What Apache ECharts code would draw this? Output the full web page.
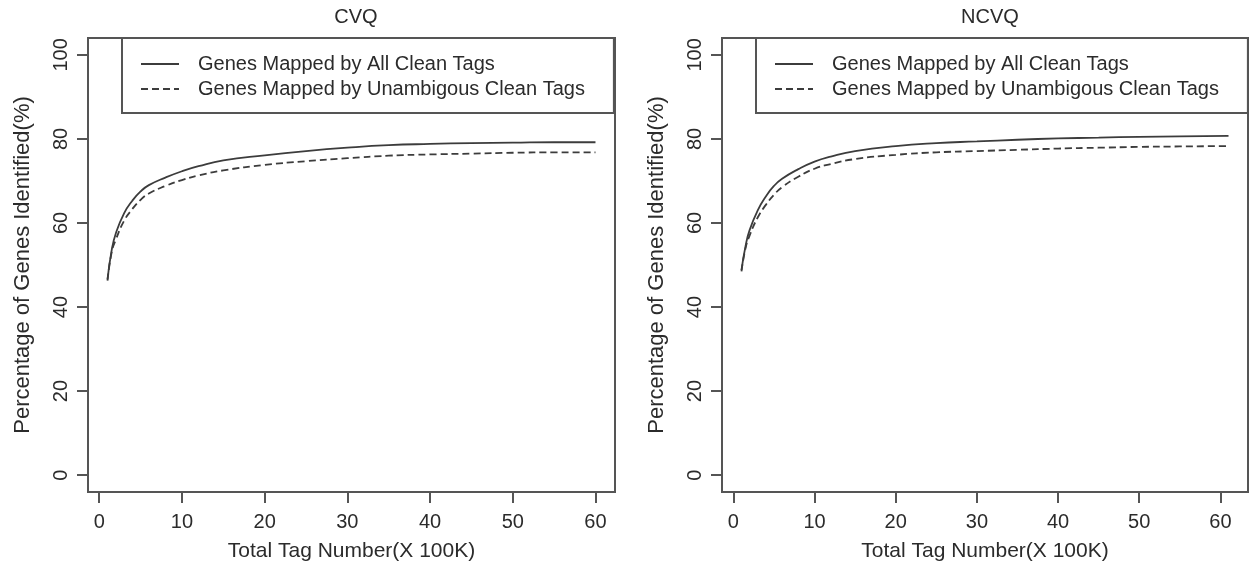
<!DOCTYPE html>
<html>
<head>
<meta charset="utf-8">
<script src="https://cdn.jsdelivr.net/npm/echarts@6/dist/echarts.min.js"></script>
<style>
  html, body { margin: 0; padding: 0; background: #fff; }
  #chart { width: 1249px; height: 570px; }
</style>
</head>
<body>
<div id="chart"></div>
<script>
// tag number (x 100K) sampled along each curve
const cvqTags = [1, 1.5, 2, 3, 4, 5, 6, 8, 10, 12, 15, 20, 25, 30, 35, 40, 45, 50, 55, 60];
const ncvqTags = [1, 1.5, 2, 3, 4, 5, 6, 8, 10, 12, 15, 20, 25, 30, 35, 40, 45, 50, 55, 61];

// percentage of genes identified
const cvqAll = [46.6, 53.5, 57.5, 62.3, 65.3, 67.5, 69.0, 70.8, 72.3, 73.5, 74.9, 76.1, 77.1, 77.9, 78.5, 78.8, 79.0, 79.1, 79.2, 79.2];
const cvqUnamb = [46.3, 53.0, 56.0, 60.5, 63.3, 65.5, 67.0, 68.8, 70.2, 71.3, 72.5, 73.8, 74.7, 75.4, 76.0, 76.3, 76.5, 76.7, 76.8, 76.8];
const ncvqAll = [48.8, 54.5, 58.3, 63.0, 66.3, 68.8, 70.5, 72.8, 74.6, 75.8, 77.1, 78.3, 79.0, 79.4, 79.8, 80.1, 80.3, 80.5, 80.6, 80.7];
const ncvqUnamb = [48.5, 54.0, 57.0, 61.3, 64.3, 66.7, 68.5, 71.0, 72.9, 74.0, 75.2, 76.2, 76.8, 77.1, 77.4, 77.7, 77.9, 78.1, 78.2, 78.3];

const xTicks = [0, 10, 20, 30, 40, 50, 60];
const yTicks = [0, 20, 40, 60, 80, 100];

const seriesNames = ["Genes Mapped by All Clean Tags", "Genes Mapped by Unambigous Clean Tags"];

const FONT = "Liberation Sans";
const INK = "#2b2b2b";
const FRAME = "#555";

const pairs = (xs, ys) => xs.map((x, i) => [x, ys[i]]);

const myChart = echarts.init(document.getElementById("chart"));

const xAxisOf = (gridIndex, min, max) => ({
  gridIndex,
  type: "value",
  min,
  max,
  splitLine: { show: false },
  axisLine: { show: true, onZero: false, lineStyle: { color: FRAME, width: 2 } },
  axisTick: { show: true, length: 11, customValues: xTicks, lineStyle: { color: FRAME, width: 2 } },
  axisLabel: { customValues: xTicks, margin: 20, color: INK, fontSize: 20, fontFamily: FONT },
  name: "Total Tag Number(X 100K)",
  nameLocation: "middle",
  nameGap: 49,
  nameTextStyle: { color: INK, fontSize: 21, fontFamily: FONT },
});

const yAxisOf = (gridIndex) => ({
  gridIndex,
  type: "value",
  min: -4,
  max: 104,
  splitLine: { show: false },
  axisLine: { show: true, onZero: false, lineStyle: { color: FRAME, width: 2 } },
  axisTick: { show: true, length: 11, customValues: yTicks, lineStyle: { color: FRAME, width: 2 } },
  axisLabel: { customValues: yTicks, rotate: 90, margin: 17, color: INK, fontSize: 20, fontFamily: FONT },
  name: "Percentage of Genes Identified(%)",
  nameLocation: "middle",
  nameGap: 54,
  nameTextStyle: { color: INK, fontSize: 22, fontFamily: FONT },
});

const legendOf = (left) => ({
  left,
  top: 38,
  orient: "vertical",
  data: seriesNames,
  selectedMode: false,
  borderColor: FRAME,
  borderWidth: 2,
  borderRadius: 0,
  padding: [16, 29, 14, 18],
  itemGap: 5,
  itemWidth: 38,
  itemHeight: 14,
  itemStyle: { opacity: 0 },
  textStyle: { color: INK, fontSize: 20, fontFamily: FONT, padding: [0, 0, 0, 14] },
});

const lineOf = (name, xi, data, dashed) => ({
  name,
  type: "line",
  xAxisIndex: xi,
  yAxisIndex: xi,
  data,
  smooth: 0.5,
  symbol: "none",
  lineStyle: { color: "#3c3c3c", width: 1.8, type: dashed ? [7, 4] : "solid" },
  itemStyle: { color: "#3c3c3c" },
});

const options = {
  animation: false,
  backgroundColor: "#fff",
  title: [
    { text: "CVQ", left: 351, top: 2, textAlign: "center", textStyle: { color: INK, fontSize: 20, fontWeight: "normal", fontFamily: FONT } },
    { text: "NCVQ", left: 985, top: 2, textAlign: "center", textStyle: { color: INK, fontSize: 20, fontWeight: "normal", fontFamily: FONT } },
  ],
  grid: [
    { left: 88, top: 38, width: 527, height: 454, show: true, borderColor: FRAME, borderWidth: 2, backgroundColor: "transparent" },
    { left: 722, top: 38, width: 526, height: 454, show: true, borderColor: FRAME, borderWidth: 2, backgroundColor: "transparent" },
  ],
  legend: [legendOf(122), legendOf(756)],
  xAxis: [xAxisOf(0, -1.36, 62.36), xAxisOf(1, -1.4, 63.4)],
  yAxis: [yAxisOf(0), yAxisOf(1)],
  series: [
    lineOf(seriesNames[0], 0, pairs(cvqTags, cvqAll), false),
    lineOf(seriesNames[1], 0, pairs(cvqTags, cvqUnamb), true),
    lineOf(seriesNames[0], 1, pairs(ncvqTags, ncvqAll), false),
    lineOf(seriesNames[1], 1, pairs(ncvqTags, ncvqUnamb), true),
  ],
};

myChart.setOption(options);
</script>
</body>
</html>
